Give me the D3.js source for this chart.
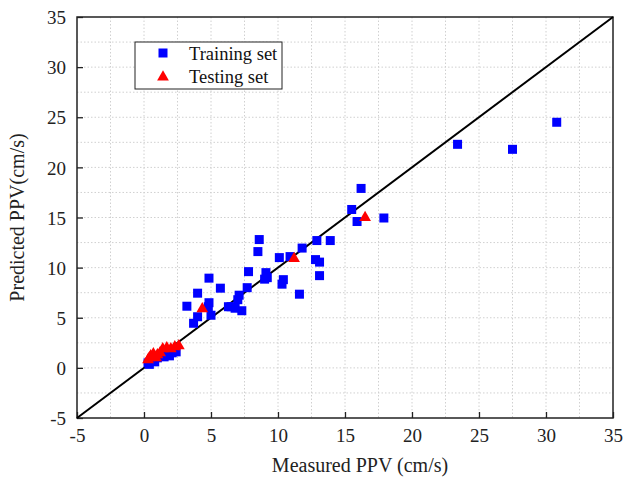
<!DOCTYPE html>
<html><head><meta charset="utf-8">
<script src="https://cdn.jsdelivr.net/npm/d3@7"></script>
<style>body{margin:0;background:#fff}svg{display:block}</style>
</head><body>
<script>
const trainX = [23.4,27.5,30.8,16.2,15.5,15.9,17.9,11.8,12.9,13.9,12.8,13.1,13.1,
  8.6,8.5,10.1,10.9,7.8,9.1,9.2,9.0,10.4,10.3,11.6,7.7,5.7,7.1,7.0,6.5,6.8,7.3,
  4.85,4.0,3.2,4.85,5.0,4.8,4.0,3.7,6.3,
  0.3,0.4,0.6,0.8,1.0,1.3,1.5,1.6,1.9,2.1,2.4,0.5];
const trainY = [22.3,21.8,24.5,17.9,15.8,14.6,14.95,11.95,12.7,12.7,10.8,10.55,9.2,
  12.8,11.6,11.0,11.1,9.6,9.5,9.0,8.85,8.8,8.35,7.35,8.0,7.95,7.25,6.8,6.1,5.95,5.7,
  8.95,7.45,6.15,6.5,5.25,6.1,5.1,4.45,6.1,
  0.5,0.35,0.9,0.6,1.0,1.2,1.1,1.3,1.2,1.5,1.6,0.7];
const testX = [16.5,11.2,4.35,0.3,0.4,0.5,0.7,0.9,1.0,1.2,1.4,1.7,2.0,2.3,2.6];
const testY = [15.0,10.9,5.9,0.8,1.0,1.2,1.4,1.0,1.3,1.5,1.9,2.0,1.9,2.1,2.2];
const ticks = [-5,0,5,10,15,20,25,30,35];
const gridVals = [-2.5,0,2.5,5,7.5,10,12.5,15,17.5,20,22.5,25,27.5,30,32.5];
const legendLabels = ["Training set","Testing set"];
const xTitle = "Measured PPV (cm/s)";
const yTitle = "Predicted PPV(cm/s)";

const W=624,H=485, L=77, R=613, T=17, B=418;
const FONT="'Liberation Serif','Times New Roman',serif";
const svg = d3.select("body").append("svg").attr("width",W).attr("height",H)
  .style("font-family",FONT);
const x = d3.scaleLinear().domain([-5,35]).range([L,R]);
const y = d3.scaleLinear().domain([-5,35]).range([B,T]);
const fmt = d => String(d).replace("\u2212","-");

// grid
const g = svg.append("g");
g.selectAll("line.gx").data(gridVals).join("line")
  .attr("x1",d=>x(d)).attr("x2",d=>x(d)).attr("y1",T).attr("y2",B)
  .attr("stroke","#d0d0d0").attr("stroke-width",1).attr("stroke-dasharray","1.5,2");
g.selectAll("line.gy").data(gridVals).join("line")
  .attr("y1",d=>y(d)).attr("y2",d=>y(d)).attr("x1",L).attr("x2",R)
  .attr("stroke","#d0d0d0").attr("stroke-width",1).attr("stroke-dasharray","1.5,2");

// axes
const xa = svg.append("g").attr("transform",`translate(0,${B})`)
  .call(d3.axisBottom(x).tickValues(ticks).tickSize(-6).tickPadding(11).tickFormat(fmt));
const ya = svg.append("g").attr("transform",`translate(${L},0)`)
  .call(d3.axisLeft(y).tickValues(ticks).tickSize(-6).tickPadding(11).tickFormat(fmt));
[xa,ya].forEach(a=>{
  a.select(".domain").remove();
  a.selectAll("line").attr("stroke","#222").attr("stroke-width",1.3);
  a.selectAll("text").attr("font-size",19).attr("fill","#222")
    .style("font-family",FONT);
});
xa.selectAll("text").attr("dy","0.71em");
ya.selectAll("text").attr("dy","0.35em");

// frame
svg.append("rect").attr("x",L).attr("y",T).attr("width",R-L).attr("height",B-T)
  .attr("fill","none").attr("stroke","#222").attr("stroke-width",1.5);

// diagonal
svg.append("line").attr("x1",x(-5)).attr("y1",y(-5)).attr("x2",x(35)).attr("y2",y(35))
  .attr("stroke","#000").attr("stroke-width",2);

// training squares
const s=9;
svg.append("g").selectAll("rect").data(trainX.map((d,i)=>[d,trainY[i]])).join("rect")
  .attr("x",d=>x(d[0])-s/2).attr("y",d=>y(d[1])-s/2).attr("width",s).attr("height",s)
  .attr("fill","#0000ff");
// testing triangles
const tri = d3.symbol().type(d3.symbolTriangle).size(60);
svg.append("g").selectAll("path").data(testX.map((d,i)=>[d,testY[i]])).join("path")
  .attr("d",tri).attr("transform",d=>`translate(${x(d[0])},${y(d[1])})`)
  .attr("fill","#ff0000");

// legend
const lg = svg.append("g");
lg.append("rect").attr("x",135).attr("y",42).attr("width",147).attr("height",47)
  .attr("fill","#fff").attr("stroke","#222").attr("stroke-width",1);
lg.append("rect").attr("x",163-s/2).attr("y",53-s/2).attr("width",s).attr("height",s).attr("fill","#0000ff");
lg.append("path").attr("d",tri).attr("transform","translate(163,77)").attr("fill","#ff0000");
lg.selectAll("text").data(legendLabels).join("text")
  .attr("x",189).attr("y",(d,i)=>54+i*23).attr("dy","0.35em")
  .attr("font-size",18.5).attr("fill","#111").text(d=>d);

// titles
svg.append("text").attr("x",360).attr("y",472).attr("text-anchor","middle")
  .attr("font-size",20).attr("fill","#222").text(xTitle);
svg.append("text").attr("transform",`translate(24,${(T+B)/2}) rotate(-90)`)
  .attr("text-anchor","middle").attr("font-size",20).attr("fill","#222").text(yTitle);
</script>
</body></html>
